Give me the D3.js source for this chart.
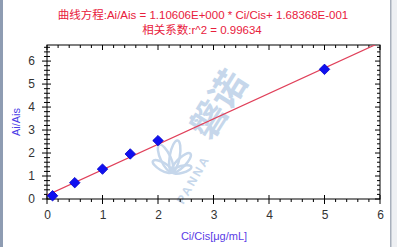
<!DOCTYPE html>
<html><head><meta charset="utf-8">
<script src="https://cdn.jsdelivr.net/npm/d3@7"></script>
<style>body{margin:0;background:#fff}svg{display:block}</style>
</head><body>
<svg id="c" width="397" height="247"></svg>
<script>
const xValues = [0.1, 0.5, 1.0, 1.5, 2.0, 5.0];
const yValues = [0.14, 0.71, 1.30, 1.96, 2.54, 5.64];
const slope = 1.10606;
const intercept = 0.168368;
const xTicks = [0, 1, 2, 3, 4, 5, 6];
const yTicks = [0, 1, 2, 3, 4, 5, 6];
const titleLine1 = "曲线方程:Ai/Ais = 1.10606E+000 * Ci/Cis+ 1.68368E-001";
const titleLine2 = "相关系数:r^2 = 0.99634";
const xLabel = "Ci/Cis[μg/mL]";
const yLabel = "Ai/Ais";

const svg = d3.select("#c");
const W = 397, H = 247;
const L = 47, R = 380, T = 45, B = 199;
const x = d3.scaleLinear().domain([0, 6]).range([L, R]);
const y = d3.scaleLinear().domain([0, 6.7]).range([B, T]);

// window frame
svg.append("rect").attr("x",0).attr("y",0).attr("width",W).attr("height",H).attr("fill","#fff");
svg.append("rect").attr("x",0).attr("y",0).attr("width",3).attr("height",H).attr("fill","#8e9cb2");
svg.append("rect").attr("x",390).attr("y",0).attr("width",7).attr("height",H).attr("fill","#eef0f3");
svg.append("rect").attr("x",390).attr("y",0).attr("width",1.5).attr("height",H).attr("fill","#a8b0bc");

// watermark
const wmc = "#c6d7eb";
const wm = svg.append("g").attr("fill",wmc);
wm.append("text").attr("transform","translate(221,106) rotate(-58)")
  .attr("text-anchor","middle").attr("font-family","Noto Sans CJK SC").attr("font-weight","bold")
  .attr("font-size",36).attr("dominant-baseline","middle").text("磐诺");
wm.append("text").attr("transform","translate(194,180) rotate(-60)")
  .attr("text-anchor","middle").attr("font-family","Liberation Sans").attr("font-weight","bold")
  .attr("font-size",12).attr("letter-spacing",2.5).attr("dominant-baseline","middle").text("PANNA");
const lg = wm.append("g").attr("transform","translate(172,172)");
[[-150,22,8],[-115,30,10],[-80,32,10],[-45,26,9],[-15,20,7]].forEach(([a,l,w])=>{
  lg.append("ellipse").attr("cx",l/2).attr("cy",0).attr("rx",l/2).attr("ry",w/2)
    .attr("fill","none").attr("stroke",wmc).attr("stroke-width",2.5)
    .attr("transform",`rotate(${a})`);
});

// title
svg.append("text").attr("x",203).attr("y",19).attr("text-anchor","middle")
  .attr("font-family","Liberation Sans, Noto Sans CJK SC").attr("font-size",11.5).attr("fill","#e8203c").text(titleLine1);
svg.append("text").attr("x",202).attr("y",34).attr("text-anchor","middle")
  .attr("font-family","Liberation Sans, Noto Sans CJK SC").attr("font-size",11.5).attr("fill","#e8203c").text(titleLine2);

// frame of plot
svg.append("rect").attr("x",L).attr("y",T).attr("width",R-L).attr("height",B-T)
  .attr("fill","none").attr("stroke","#000").attr("stroke-width",1);

const ink = "#000";
const gb = svg.append("g");
// bottom axis
d3.range(0, 6.001, 0.2).forEach(v=>{
  const major = Math.abs(v-Math.round(v))<1e-6;
  gb.append("line").attr("x1",x(v)).attr("x2",x(v))
    .attr("y1",B-(major?4:0)).attr("y2",B+(major?5:3)).attr("stroke",ink);
});
svg.append("g").attr("transform",`translate(0,${B})`)
  .call(d3.axisBottom(x).tickValues(xTicks).tickSize(0).tickPadding(11).tickFormat(d3.format("d")))
  .call(g=>g.select(".domain").remove())
  .selectAll("text").attr("font-family","Liberation Sans").attr("font-size",12).attr("fill","#333");
// top axis
d3.range(0, 6.001, 0.2).forEach(v=>{
  const major = Math.abs(v-Math.round(v))<1e-6;
  gb.append("line").attr("x1",x(v)).attr("x2",x(v))
    .attr("y1",T).attr("y2",T+(major?5:3)).attr("stroke",ink);
});
// left axis
d3.range(0, 6.701, 0.2).forEach(v=>{
  const major = Math.abs(v-Math.round(v))<1e-6;
  gb.append("line").attr("y1",y(v)).attr("y2",y(v))
    .attr("x1",L-(major?5:3)).attr("x2",L+(major?4:3)).attr("stroke",ink);
});
// right axis
d3.range(0, 6.701, 0.2).forEach(v=>{
  const major = Math.abs(v-Math.round(v))<1e-6;
  gb.append("line").attr("y1",y(v)).attr("y2",y(v))
    .attr("x1",R-(major?5:3)).attr("x2",R).attr("stroke",ink);
});
svg.append("g").attr("transform",`translate(${L},0)`)
  .call(d3.axisLeft(y).tickValues(yTicks).tickSize(0).tickPadding(12).tickFormat(d3.format("d")))
  .call(g=>g.select(".domain").remove())
  .selectAll("text").attr("font-family","Liberation Sans").attr("font-size",12).attr("fill","#333");

// axis labels
svg.append("text").attr("x",214).attr("y",240).attr("text-anchor","middle")
  .attr("font-family","Liberation Sans").attr("font-size",11).attr("fill","#5a3ce6").text(xLabel);
svg.append("text").attr("transform","translate(20,122) rotate(-90)").attr("text-anchor","middle")
  .attr("font-family","Liberation Sans").attr("font-size",11).attr("fill","#4a3ce6").text(yLabel);

// fit line (clipped)
svg.append("clipPath").attr("id","clip").append("rect")
  .attr("x",L).attr("y",T).attr("width",R-L).attr("height",B-T);
const fx = [0, 6];
svg.append("path").attr("clip-path","url(#clip)")
  .datum(fx.map(v=>[v, slope*v+intercept]))
  .attr("d", d3.line().x(d=>x(d[0])).y(d=>y(d[1])))
  .attr("fill","none").attr("stroke","#e0405a").attr("stroke-width",1.2);

// points
const pts = xValues.map((v,i)=>[v, yValues[i]]);
svg.append("g").selectAll("path").data(pts).join("path")
  .attr("transform", d=>`translate(${x(d[0])},${y(d[1])})`)
  .attr("d", d3.symbol().type(d3.symbolDiamond2).size(70))
  .attr("fill","#1010f0").attr("stroke","#0000c8").attr("stroke-width",0.8);
</script>
</body></html>
